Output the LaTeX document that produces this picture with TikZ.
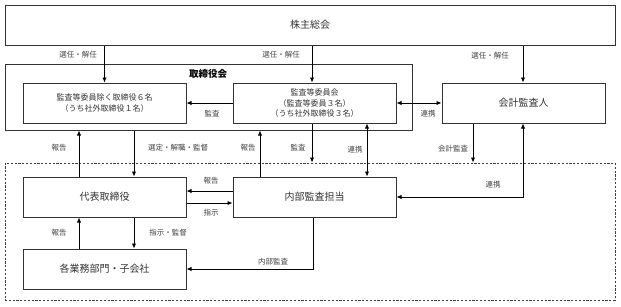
\documentclass[tikz,border=0pt]{standalone}
\usepackage{fontspec}
\newfontfamily\jp{Noto Sans CJK JP}
\usetikzlibrary{arrows.meta}
\begin{document}
\begin{tikzpicture}[x=1pt,y=-1pt,
 box/.style={draw=black!80, line width=1pt, minimum width=163pt, minimum height=40pt, inner sep=0pt, align=center, font=\jp\fontsize{8}{10.5}\selectfont, text=black!80},
 bigtxt/.style={font=\jp\fontsize{10}{12}\selectfont},
 arr/.style={line width=0.9pt, -{Latex[length=5pt,width=4.5pt]}},
 darr/.style={line width=0.9pt, {Latex[length=5pt,width=4.5pt]}-{Latex[length=5pt,width=4.5pt]}},
 lbl/.style={font=\jp\fontsize{7.5}{9}\selectfont, text=black!75, inner sep=1pt}]
\useasboundingbox (0,0) rectangle (621,306);
% frames
\node[box, minimum width=610pt, bigtxt] (sh) at (310,25) {株主総会};
\node[box, minimum width=407pt, minimum height=66pt] (board) at (208.5,97) {};
\node[font=\jp\bfseries\fontsize{9.5}{11}\selectfont, inner sep=0pt] (boardt) at (208,74) {取締役会};
\node[draw=black!75, dash pattern=on 2.2pt off 1.6pt, line width=1pt, minimum width=610pt, minimum height=137pt, inner sep=0pt] (ex) at (310,231.5) {};
% boxes
\node[box] (b1) at (104.5,103) {監査等委員除く取締役６名\\（うち社外取締役１名）};
\node[box] (ac) at (314.5,103) {監査等委員会\\（監査等委員３名）\\（うち社外取締役３名）};
\node[box, bigtxt] (ea) at (523.5,103) {会計監査人};
\node[box, bigtxt] (ceo) at (104.5,197) {代表取締役};
\node[box, bigtxt] (ia) at (314.5,197) {内部監査担当};
\node[box, bigtxt] (dept) at (104.5,269) {各業務部門・子会社};
% helper coordinates
\coordinate (pL) at ([xshift=-25.5pt]ceo.north);
\coordinate (pR) at ([xshift=29.5pt]ceo.north);
\coordinate (qL) at ([xshift=-25.5pt]dept.north);
\coordinate (qR) at ([xshift=29.5pt]ceo.south);
\coordinate (iaL) at ([xshift=-54.5pt]ia.north);
\coordinate (acR) at ([xshift=52.5pt]ac.south);
\coordinate (acM) at ([xshift=-2.5pt]ac.south);
\coordinate (eaL) at ([xshift=-50.5pt]ea.south);
\coordinate (eaR) at ([xshift=-0.5pt]ea.south);
\coordinate (iaU) at ([yshift=6pt]ia.west);
\coordinate (ceD) at ([yshift=-6pt]ceo.east);
\coordinate (iaB) at ([xshift=-1.5pt]ia.south);
% arrows
\draw[arr] (sh.south -| b1.north) -- (b1.north);
\draw[arr] (sh.south -| acM) -- (acM |- ac.north);
\draw[arr] (sh.south -| eaR) -- (eaR |- ea.north);
\draw[arr] (ac.west) -- (b1.east);
\draw[darr] (ac.east) -- (ea.west);
\draw[arr] (pL) -- (pL |- board.south);
\draw[arr] (pR |- board.south) -- (pR);
\draw[arr] (iaL) -- (iaL |- board.south);
\draw[arr] (acM) -- (acM |- ex.north);
\draw[darr] (acR) -- (acR |- ia.north);
\draw[arr] (eaL) -- (eaL |- ex.north);
\draw[darr] (ia.east) -- (ia.east -| eaR) -- (eaR);
\draw[arr] (iaU) -- (iaU -| ceo.east);
\draw[arr] (ceD) -- (ceD -| ia.west);
\draw[arr] (qL) -- (qL |- ceo.south);
\draw[arr] (qR) -- (qR |- dept.north);
\draw[arr] (iaB) -- (iaB |- dept.east) -- (dept.east);
% labels
\node[lbl] (l1) at (78,55) {選任・解任};
\node[lbl] (l2) at (281,55) {選任・解任};
\node[lbl] (l3) at (490,56) {選任・解任};
\node[lbl] (l4) at (212,114) {監査};
\node[lbl] (l5) at (428,114) {連携};
\node[lbl] (l6) at (59,148) {報告};
\node[lbl] (l7) at (178,148) {選定・解職・監督};
\node[lbl] (l8) at (248,148) {報告};
\node[lbl] (l9) at (298,148) {監査};
\node[lbl] (l10) at (355,150) {連携};
\node[lbl] (l11) at (453,149) {会計監査};
\node[lbl] (l12) at (493,185) {連携};
\node[lbl] (l13) at (211,181) {報告};
\node[lbl] (l14) at (211,213) {指示};
\node[lbl] (l15) at (59,233) {報告};
\node[lbl] (l16) at (168,233) {指示・監督};
\node[lbl] (l17) at (273,262) {内部監査};
\end{tikzpicture}
\end{document}
